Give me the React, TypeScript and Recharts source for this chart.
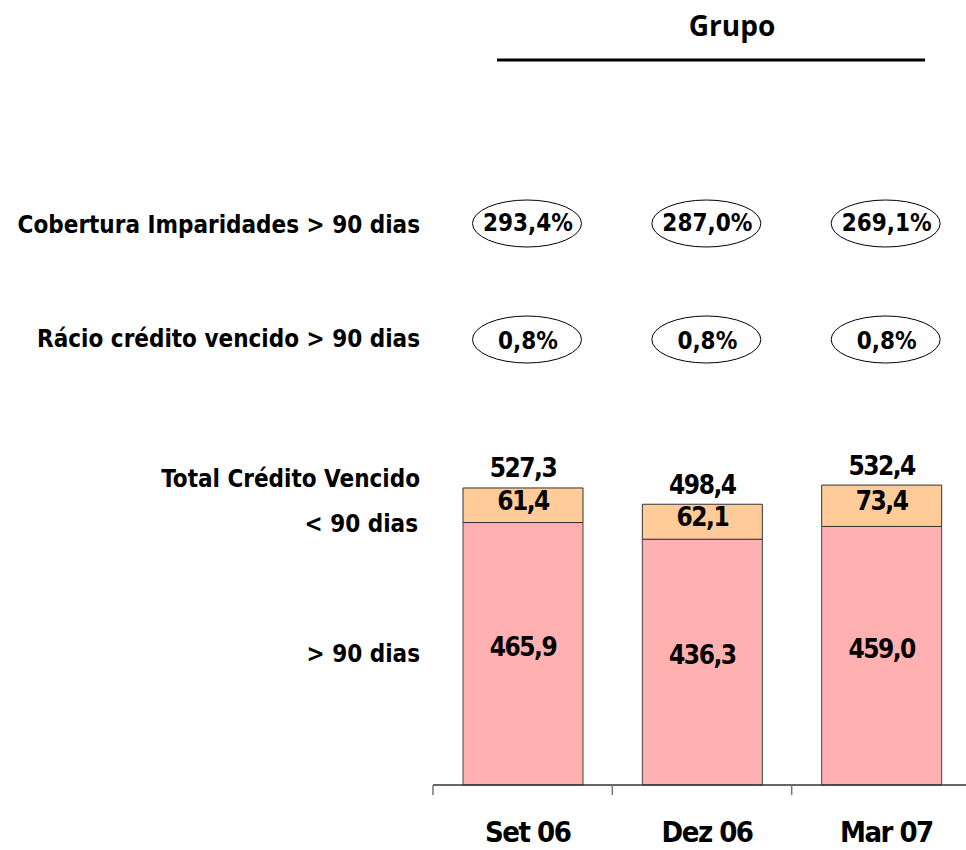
import React from 'react';
import { ComposedChart, Bar, XAxis, YAxis, LabelList } from 'recharts';

const periods = ['Set 06', 'Dez 06', 'Mar 07'];
const over90 = [465.9, 436.3, 459.0];
const under90 = [61.4, 62.1, 73.4];
const totals = [527.3, 498.4, 532.4];
const cobertura = ['293,4%', '287,0%', '269,1%'];
const racio = ['0,8%', '0,8%', '0,8%'];

const data = periods.map((p, i) => ({
  period: p,
  over90: over90[i],
  under90: under90[i],
  total: totals[i],
  cobertura: cobertura[i],
  racio: racio[i],
}));

const COND = "'DejaVu Sans Condensed', 'DejaVu Sans', sans-serif";
const fmt = (v: number) => v.toFixed(1).replace('.', ',');

const numStyle = {
  fontFamily: COND,
  fontStretch: 'condensed' as const,
  fontWeight: 700,
  fontSize: 26,
  letterSpacing: -1.5,
  fill: '#000',
};

const PinkLabel = (props: any) => {
  const { x, y, width, height, value } = props;
  return (
    <text x={x + width / 2} y={y + height / 2 + 2} textAnchor="middle" style={numStyle}>
      {fmt(Number(value))}
    </text>
  );
};

const OrangeLabel = (props: any) => {
  const { x, y, width, height, value } = props;
  return (
    <text x={x + width / 2} y={y + height / 2 + 4.5} textAnchor="middle" style={numStyle}>
      {fmt(Number(value))}
    </text>
  );
};

const TotalLabel = (props: any) => {
  const { x, y, width, value } = props;
  return (
    <text x={x + width / 2} y={y - 10.5} textAnchor="middle" style={numStyle}>
      {fmt(Number(value))}
    </text>
  );
};

const ovalText = {
  fontFamily: COND,
  fontStretch: 'condensed' as const,
  fontWeight: 700,
  fontSize: 24,
  fill: '#000',
};

const makeOval = (cy: number, base: number) => (props: any) => {
  const { x, width, value } = props;
  const cx = x + width / 2;
  return (
    <g>
      <ellipse cx={cx + 4} cy={cy} rx={54.5} ry={23.5} fill="none" stroke="#000" strokeWidth={1} />
      <text x={cx + 5} y={base} textAnchor="middle" style={ovalText}>
        {value}
      </text>
    </g>
  );
};

const CoberturaOval = makeOval(223.5, 231);
const RacioOval = makeOval(339.5, 348.5);

const CategoryTick = (props: any) => {
  const { x, y, payload } = props;
  const off = payload && payload.offset ? payload.offset : 0;
  return (
    <g>
      <line x1={x - off} y1={y} x2={x - off} y2={y + 10} stroke="#777" strokeWidth={1.5} />
      <text
        x={x + 5}
        y={y + 57}
        textAnchor="middle"
        style={{
          fontFamily: COND,
          fontStretch: 'condensed',
          fontWeight: 700,
          fontSize: 29,
          letterSpacing: -1.5,
          fill: '#000',
        }}
      >
        {payload.value}
      </text>
    </g>
  );
};

const leftLabel = {
  fontFamily: COND,
  fontStretch: 'condensed' as const,
  fontWeight: 700,
  fontSize: 24,
  fill: '#000',
};

export default function App() {
  return (
    <div style={{ position: 'absolute', left: 0, top: 0, width: 966, height: 850, overflow: 'hidden', background: '#fff' }}>
      <ComposedChart
        width={971}
        height={850}
        data={data}
        margin={{ top: 447, right: 0, bottom: 0, left: 433 }}
        barSize={120}
      >
        <YAxis hide domain={[0, 600]} />
        <XAxis
          dataKey="period"
          height={65}
          tickSize={0}
          tickMargin={0}
          tickLine={false}
          axisLine={{ stroke: '#333', strokeWidth: 1.5 }}
          tick={<CategoryTick />}
          interval={0}
        />
        <Bar dataKey="over90" stackId="a" fill="#FFB1B1" stroke="#444" strokeWidth={1} isAnimationActive={false}>
          <LabelList dataKey="over90" content={<PinkLabel />} />
        </Bar>
        <Bar dataKey="under90" stackId="a" fill="#FFCC99" stroke="#333" strokeWidth={1} isAnimationActive={false}>
          <LabelList dataKey="under90" content={<OrangeLabel />} />
          <LabelList dataKey="total" content={<TotalLabel />} />
          <LabelList dataKey="cobertura" content={<CoberturaOval />} />
          <LabelList dataKey="racio" content={<RacioOval />} />
        </Bar>
      </ComposedChart>
      <svg width={966} height={850} style={{ position: 'absolute', left: 0, top: 0, pointerEvents: 'none' }}>
        <text
          x={732}
          y={36}
          textAnchor="middle"
          style={{ fontFamily: "'Open Sans', sans-serif", fontWeight: 700, fontSize: 28, fill: '#000' }}
        >
          Grupo
        </text>
        <line x1={497} y1={60} x2={925} y2={60} stroke="#000" strokeWidth={3} />
        <text x={420} y={233} textAnchor="end" style={leftLabel}>Cobertura Imparidades &gt; 90 dias</text>
        <text x={420} y={347} textAnchor="end" style={leftLabel}>Rácio crédito vencido &gt; 90 dias</text>
        <text x={420} y={487} textAnchor="end" style={leftLabel}>Total Crédito Vencido</text>
        <text x={418} y={532} textAnchor="end" style={leftLabel}>&lt; 90 dias</text>
        <text x={420} y={662} textAnchor="end" style={leftLabel}>&gt; 90 dias</text>
      </svg>
    </div>
  );
}
